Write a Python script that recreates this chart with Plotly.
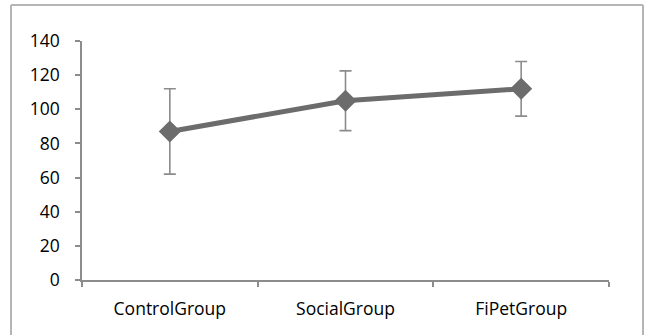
import plotly.graph_objects as go

categories = ["ControlGroup", "SocialGroup", "FiPetGroup"]
means = [87, 105, 112]
errors = [25, 17.5, 16]
y_ticks = [0, 20, 40, 60, 80, 100, 120, 140]

fig = go.Figure()
fig.add_trace(go.Scatter(
    x=categories, y=means, mode="lines+markers",
    line=dict(color="#6c6c6c", width=5),
    marker=dict(symbol="diamond", size=17, color="#6c6c6c"),
    error_y=dict(type="data", array=errors, visible=True, color="#8c8c8c", thickness=1.6, width=6),
    showlegend=False,
))

axis_color = "#8c8c8c"
border = dict(color="#b5b5b5", width=2)
fig.update_layout(
    width=645, height=335,
    margin=dict(l=82, r=36, t=41, b=55),
    paper_bgcolor="white", plot_bgcolor="white",
    font=dict(family="Open Sans, sans-serif", size=17.5, color="#000000"),
    xaxis=dict(
        type="category", range=[-0.5, 2.5], tickson="boundaries",
        showline=True, linecolor=axis_color, linewidth=1.5,
        ticks="outside", ticklen=5, tickcolor=axis_color, tickwidth=1.5,
        showgrid=False, zeroline=False, ticklabelstandoff=12,
    ),
    yaxis=dict(
        range=[0, 140], tickvals=y_ticks,
        showline=True, linecolor=axis_color, linewidth=1.5,
        ticks="outside", ticklen=5, tickcolor=axis_color, tickwidth=1.5,
        showgrid=False, zeroline=False, ticklabelstandoff=12,
    ),
    shapes=[
        dict(type="line", xref="paper", yref="paper", x0=-0.1347, x1=-0.1347, y0=-0.3, y1=1.1506, line=border),
        dict(type="line", xref="paper", yref="paper", x0=1.0645, x1=1.0645, y0=-0.3, y1=1.1506, line=border),
        dict(type="line", xref="paper", yref="paper", x0=-0.1347, x1=1.0645, y0=1.1506, y1=1.1506, line=border),
    ],
)

fig.write_html("out.html", config={"displayModeBar": False},
               post_script="document.body.style.margin='0';")
